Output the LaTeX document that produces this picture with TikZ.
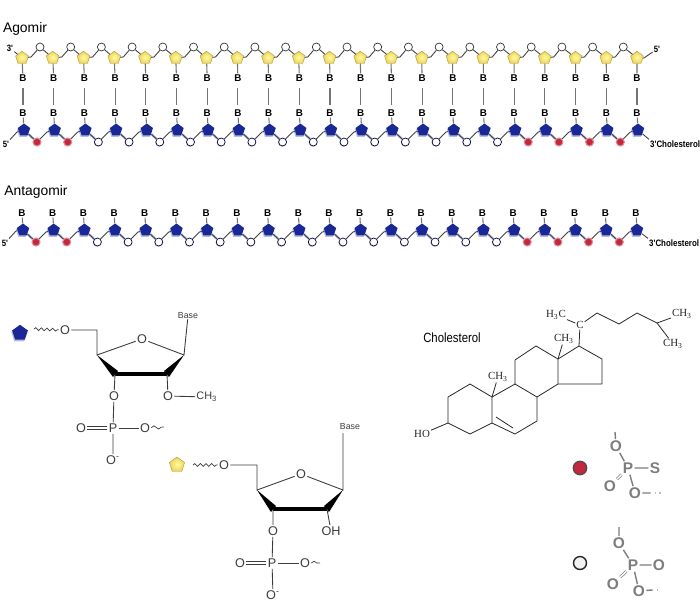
\documentclass[tikz,border=0pt]{standalone}
\usepackage{fontspec}
\setmainfont{Liberation Sans}
\newfontfamily\narrowfont[FakeStretch=0.85]{Liberation Sans}
\newfontfamily\chemfont{Liberation Serif}
\definecolor{popyellow}{RGB}{240, 208, 84}
\definecolor{popblue}{RGB}{26, 40, 150}
\definecolor{popred}{RGB}{196, 40, 62}
\definecolor{inkgray}{RGB}{60, 60, 60}
\definecolor{phosgray}{RGB}{125, 125, 125}
\usetikzlibrary{shapes.geometric, positioning, calc, shadows, decorations.pathmorphing}

\begin{document}
\begin{tikzpicture}[
  x=0.02cm, y=-0.02cm,
  ypent/.style={regular polygon, regular polygon sides=5, inner sep=0pt, minimum size=0.27cm, draw=popyellow!70!black, line width=0.2pt, inner color=yellow!35, outer color=popyellow},
  bpent/.style={regular polygon, regular polygon sides=5, inner sep=0pt, minimum size=0.26cm, fill=popblue, drop shadow={shadow xshift=-0.5pt, shadow yshift=-0.9pt, fill=popblue!45, opacity=0.7}},
  wbead/.style={circle, inner sep=0pt, minimum size=0.16cm, draw=black!80, line width=0.4pt, fill=white},
  rbead/.style={circle, inner sep=0pt, minimum size=0.16cm, draw=popred!55, line width=0.6pt, fill=popred},
  tbead/.style={circle, inner sep=0pt, minimum size=0.16cm, draw=black!75!blue, line width=0.4pt, fill=white, drop shadow={shadow xshift=-0.3pt, shadow yshift=-0.5pt, fill=black!35, opacity=0.6}},
  strand/.style={draw=black!75, line width=0.5pt},
  halo/.style={draw=popblue!35, line width=1.3pt},
  rung/.style={draw=black!55, line width=0.6pt},
  baselab/.style={inner sep=0.5pt, font=\fontsize{5.6}{6}\bfseries\selectfont},
  endlab/.style={inner sep=0.5pt, font=\fontsize{5.2}{6}\narrowfont\bfseries\selectfont},
  title/.style={inner sep=0pt, font=\fontsize{7.9}{9}\selectfont},
  atom/.style={inner sep=0.6pt, text=inkgray, font=\fontsize{7.2}{8}\selectfont},
  tag/.style={inner sep=0pt, text=inkgray, font=\fontsize{5}{6}\selectfont},
  bond/.style={draw=inkgray, line width=0.5pt},
  wavy/.style={draw=inkgray, line width=0.4pt, decorate, decoration={snake, amplitude=0.8pt, segment length=3.2pt}},
  tailwave/.style={draw=inkgray, line width=0.4pt, decorate, decoration={snake, amplitude=1pt, segment length=5pt}},
  wedge/.style={fill=black},
  heavy/.style={draw=black, line width=1.9pt},
  ster/.style={draw=black!85, line width=0.45pt, line join=round},
  steratom/.style={inner sep=0.4pt, text=black!85, font=\fontsize{6.2}{7}\chemfont\selectfont},
  patom/.style={inner sep=0.6pt, text=phosgray, font=\fontsize{8.8}{9}\bfseries\selectfont},
  pbond/.style={draw=phosgray, line width=0.8pt},
  pdbl/.style={draw=phosgray, line width=0.4pt, double, double distance=0.8pt},
  pdots/.style={draw=phosgray!50, line width=0.7pt, dotted}
]
  \useasboundingbox (0,0) rectangle (700,600);

  \node[title] (agomir) at (25,29) {Agomir};
  \node[title] (antagomir) at (36,192) {Antagomir};

  \foreach \i [evaluate=\i as \x using 22+30.75*\i, evaluate=\i as \u using 24+30.7*\i, evaluate=\i as \v using 23+30.7*\i] in {0,...,20} {
    \node[baselab] (btop\i) at (\u-1,78) {B};
    \node[baselab] (bbot\i) at (\u-1,113) {B};
    \node[baselab] (bant\i) at (\v-1,213) {B};
    \node[ypent] (ypent\i) at (\x,58) {};
    \node[bpent] (agpent\i) at (\u,130) {};
    \node[bpent] (anpent\i) at (\v,230) {};
    \draw[rung, shorten >=2pt, shorten <=3.2pt] (btop\i) -- (bbot\i);
    \draw[rung] (ypent\i) -- (btop\i);
    \draw[rung] (agpent\i) -- (bbot\i);
    \draw[rung] (anpent\i) -- (bant\i);
  }
  \foreach \i [evaluate=\i as \x using 40+30.7*\i] in {0,...,19}
    \node[wbead] (ybead\i) at (\x,47) {};
  \foreach \i [evaluate=\i as \u using 37+30.7*\i, evaluate=\i as \v using 36+30.7*\i] in {0,1,16,17,18,19} {
    \node[rbead] (agbead\i) at (\u,142) {};
    \node[rbead] (anbead\i) at (\v,242) {};
  }
  \foreach \i [evaluate=\i as \u using 37+30.7*\i, evaluate=\i as \v using 36+30.7*\i] in {2,...,15} {
    \node[tbead] (agbead\i) at (\u,142) {};
    \node[tbead] (anbead\i) at (\v,242) {};
  }
  \foreach \i [count=\j from 1] in {0,...,19} {
    \draw[strand] (ypent\i) -- ++(9,-1) -- (ybead\i) -- (ypent\j);
    \draw[halo] (agpent\i) -- (agbead\i);
    \draw[halo] (anpent\i) -- (anbead\i);
    \draw[strand] (agpent\i) -- (agbead\i) -- ++(10,-10) -- (agpent\j);
    \draw[strand] (anpent\i) -- (anbead\i) -- ++(10,-10) -- (anpent\j);
  }

  \node[endlab] (lab3y) at (10,48) {3'};
  \node[endlab] (lab5y) at (657,49) {5'};
  \node[endlab] (lab5a) at (6,144) {5'};
  \node[endlab] (lab5b) at (5,243) {5'};
  \node[endlab, anchor=west] (chola) at (649,144) {\fontsize{5.3}{6}\selectfont 3'Cholesterol};
  \node[endlab, anchor=west] (cholb) at (648,243) {\fontsize{5.3}{6}\selectfont 3'Cholesterol};
  \draw[strand] (lab3y) -- (ypent0);
  \draw[strand] (ypent20) -- ++(7,0) -- (lab5y);
  \draw[strand] (lab5a) -- ++(11,-12) -- (agpent0);
  \draw[strand] (lab5b) -- ++(11,-12) -- (anpent0);
  \draw[strand] (agpent20) -- (chola.north west);
  \draw[strand] (anpent20) -- (cholb.north west);

  \node[bpent, minimum size=0.33cm] (bluesug) at (20,333) {};
  \coordinate (wave1) at (34,329);
  \node[atom] (o51) at (65,330) {O};
  \coordinate (c51) at (97,330);
  \coordinate (c41) at (97,355);
  \node[atom] (ring1) at (142,339) {O};
  \coordinate (c11) at (184,355);
  \node[tag] (base1) at (188,316) {Base};
  \coordinate (c31) at (115,374);
  \coordinate (c21) at (167,374);
  \node[atom] (o31) at (114,396) {O};
  \node[atom] (o21) at (168,396) {O};
  \node[atom, anchor=west, font=\fontsize{6.2}{7}\selectfont] (me1) at (195,397) {CH\textsubscript{3}};
  \node[atom] (p1) at (113,428) {P};
  \node[atom] (odb1) at (81,428) {O};
  \node[atom] (or1) at (145,428) {O};
  \coordinate (tail1) at (164,427);
  \node[atom] (om1) at (113,460) {O\textsuperscript{-}};
  \draw[wavy] (wave1) -- (o51);
  \draw[bond] (o51) -- (c51) -- (c41) -- (ring1) -- (c11) -- (base1);
  \fill[wedge] (c41) -- ([shift={(3,-3)}]c31) -- ([shift={(-2,3)}]c31) -- cycle;
  \fill[wedge] (c11) -- ([shift={(-3,-3)}]c21) -- ([shift={(2,3)}]c21) -- cycle;
  \draw[heavy] (c31) -- (c21);
  \draw[bond] (c31) -- (o31) -- (p1) -- (om1);
  \draw[bond] (c21) -- (o21) -- (me1);
  \draw[bond] (p1) -- (or1);
  \draw[bond] ([yshift=0.7pt]p1.west) -- ([yshift=0.7pt]odb1.east);
  \draw[bond] ([yshift=-0.7pt]p1.west) -- ([yshift=-0.7pt]odb1.east);
  \draw[tailwave] (or1) -- (tail1);

  \node[ypent, minimum size=0.32cm] (yellowsug) at (177,465) {};
  \coordinate (wave2) at (193,465);
  \node[atom] (o52) at (224,465) {O};
  \coordinate (c52) at (257,465);
  \coordinate (c42) at (257,490);
  \node[atom] (ring2) at (301,474) {O};
  \coordinate (c12) at (343,490);
  \node[tag] (base2) at (350,427) {Base};
  \coordinate (c32) at (273,509);
  \coordinate (c22) at (327,509);
  \coordinate (baseend2) at (343,433);
  \node[atom] (o32) at (273,531) {O};
  \node[atom] (oh2) at (331,531) {OH};
  \node[atom] (p2) at (272,563) {P};
  \node[atom] (odb2) at (240,563) {O};
  \node[atom] (or2) at (305,563) {O};
  \coordinate (tail2) at (320,563);
  \node[atom] (om2) at (273,595) {O\textsuperscript{-}};
  \draw[wavy] (wave2) -- (o52);
  \draw[bond] (o52) -- (c52) -- (c42) -- (ring2) -- (c12) -- (baseend2);
  \fill[wedge] (c42) -- ([shift={(3,-3)}]c32) -- ([shift={(-2,3)}]c32) -- cycle;
  \fill[wedge] (c12) -- ([shift={(-3,-3)}]c22) -- ([shift={(2,3)}]c22) -- cycle;
  \draw[heavy] (c32) -- (c22);
  \draw[bond] (c32) -- (o32) -- (p2) -- (om2);
  \draw[bond] (c22) -- (oh2);
  \draw[bond] (p2) -- (or2);
  \draw[bond] ([yshift=0.7pt]p2.west) -- ([yshift=0.7pt]odb2.east);
  \draw[bond] ([yshift=-0.7pt]p2.west) -- ([yshift=-0.7pt]odb2.east);
  \draw[tailwave] (or2) -- (tail2);

  \node[inner sep=0pt, font=\fontsize{7.6}{8}\narrowfont\selectfont] (cholname) at (452,338) {Cholesterol};
  \foreach \n/\x/\y in {s1/448/397, s2/470/384, s3/448/423, s4/470/434, s5/492/423, s6/515/434, s7/537/421, s8/537/397, s9/515/384, s10/492/397, s11/515/360, s12/536/346, s13/558/359, s14/558/384, s15/602/384, s16/602/359, s17/579/346, s20/597/313, s21/619/324, s22/637/313, s23/657/323}
    \coordinate (\n) at (\x,\y);
  \node[steratom] (ho) at (422,434) {HO};
  \node[steratom] (me19) at (498,377) {CH\textsubscript{3}};
  \node[steratom] (me18) at (564,339) {CH\textsubscript{3}};
  \node[steratom] (ccarbon) at (580,325) {C};
  \node[steratom] (me21) at (556,315) {H\textsubscript{3}C};
  \node[steratom] (me26) at (682,314) {CH\textsubscript{3}};
  \node[steratom] (me27) at (673,344) {CH\textsubscript{3}};
  \draw[ster] (ho) -- (s3) -- (s1) -- (s2) -- (s10) -- (s5) -- (s4) -- (s3);
  \draw[ster] (s5) -- (s6) -- (s7) -- (s8) -- (s9) -- (s10);
  \draw[ster] ([shift={(4,-6)}]s5) -- ([shift={(-2,-6)}]s6);
  \draw[ster] (s9) -- (s11) -- (s12) -- (s13) -- (s14) -- (s8);
  \draw[ster] (s13) -- (s17) -- (s16) -- (s15) -- (s14);
  \draw[ster] (s10) -- (me19);
  \draw[ster] (s13) -- (me18);
  \draw[ster] (s17) -- (ccarbon);
  \draw[ster] (ccarbon) -- (me21);
  \draw[ster] (ccarbon) -- (s20) -- (s21) -- (s22) -- (s23) -- (me26);
  \draw[ster] (s23) -- (me27);

  \node[rbead, minimum size=0.27cm, draw=black!70, line width=0.7pt, fill=popred] (redkey) at (580,468) {};
  \coordinate (tick1) at (615,432);
  \node[patom] (po1) at (616,446) {O};
  \node[patom] (pp1) at (628,468) {P};
  \node[patom] (ps1) at (655,468) {S};
  \node[patom] (pd1) at (610,486) {O};
  \node[patom] (pe1) at (635,493) {O};
  \coordinate (pend1) at (650,493);
  \coordinate (pfade1) at (661,493);
  \draw[pbond] (tick1) -- (po1) -- (pp1) -- (ps1);
  \draw[pbond] (pp1) -- (pe1) -- (pend1);
  \draw[pdots] (pend1) -- (pfade1);
  \draw[pdbl] (pp1) -- (pd1);

  \node[wbead, minimum size=0.26cm, draw=black!85, line width=0.8pt, fill=black!5] (whitekey) at (580,563) {};
  \coordinate (tick2) at (619,527);
  \node[patom] (po2) at (619,543) {O};
  \node[patom] (pp2) at (633,565) {P};
  \node[patom] (ps2) at (659,565) {O};
  \node[patom] (pd2) at (613,584) {O};
  \node[patom] (pe2) at (639,591) {O};
  \coordinate (pend2) at (652,590);
  \coordinate (pfade2) at (661,590);
  \draw[pbond] (tick2) -- (po2) -- (pp2) -- (ps2);
  \draw[pbond] (pp2) -- (pe2) -- (pend2);
  \draw[pdots] (pend2) -- (pfade2);
  \draw[pdbl] (pp2) -- (pd2);
\end{tikzpicture}
\end{document}
